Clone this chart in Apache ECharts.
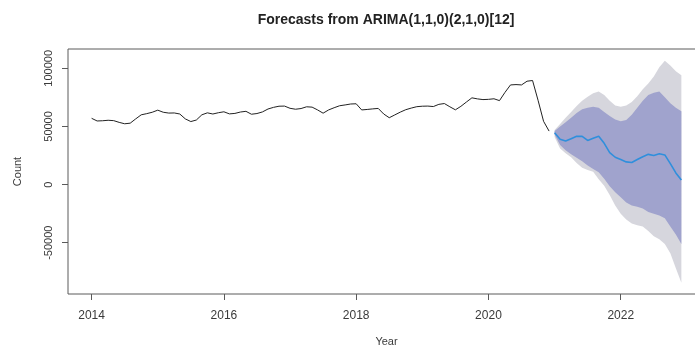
<!DOCTYPE html>
<html lang="en">
<head>
<meta charset="UTF-8">
<title>Forecasts from ARIMA</title>
<script src="https://cdn.jsdelivr.net/npm/echarts@6.0.0/dist/echarts.min.js"></script>
<style>
  html, body { margin: 0; padding: 0; background: #fff; }
  #chart { width: 695px; height: 351px; }
</style>
</head>
<body>
<div id="chart"></div>
<script>
// observed counts, monthly Jan 2014 .. Dec 2020
var histStart = 2014;
var histValues = [
  57000, 54700, 54900, 55300, 55000, 53500, 52300, 52800, 56500, 60000, 61000, 62200,
  64000, 62200, 61500, 61600, 60700, 56500, 54200, 55500, 60000, 61700, 60700, 61800,
  62600, 60800, 61200, 62400, 63000, 60500, 61100, 62500, 65000, 66400, 67400, 67500,
  65600, 64800, 65400, 66900, 66600, 64200, 61400, 64200, 66100, 67800, 68500, 69300,
  69500, 64200, 64600, 65100, 65500, 60700, 57500, 59900, 62300, 64400, 65800, 67000,
  67400, 67500, 67100, 69000, 69700, 66900, 64300, 67300, 71000, 74600, 73700, 73100,
  73300, 73800, 72200, 79300, 85700, 86000, 85700, 88900, 89500, 72500, 54400, 46000
];

// forecast Jan 2021 .. Dec 2022
var fcStart = 2021;
var fcMean = [44500, 39000, 37500, 39500, 41500, 41500, 38000, 39800, 41500, 35500, 27500, 23500,
              21500, 19500, 19000, 21500, 24000, 26000, 25000, 26500, 25500, 18000, 10000, 4000];
var fcHi95 = [47000, 52000, 57500, 62500, 67500, 72000, 75500, 78500, 80000, 77000, 72000, 68000,
              67000, 68000, 71000, 76000, 82000, 87000, 93000, 101000, 106500, 102500, 97500, 94000];
var fcHi80 = [46000, 50000, 53500, 57500, 61500, 64800, 66000, 67000, 66000, 62500, 59000, 56000,
              54500, 55500, 60000, 66000, 72000, 77000, 79000, 80000, 75000, 70000, 66000, 63000];
var fcLo80 = [43000, 34000, 29500, 26000, 23000, 20000, 16500, 13500, 10500, 5000, -1500, -6500,
              -11000, -15500, -18000, -19000, -20500, -23500, -25000, -26500, -29000, -36000, -43000, -51000];
var fcLo95 = [41000, 31000, 27000, 23500, 18500, 14500, 12500, 11000, 4500, -1000, -9000, -18000,
              -25000, -30000, -33500, -35000, -36000, -40000, -44500, -47000, -51000, -59000, -72000, -84500];

var xTicks = [2014, 2016, 2018, 2020, 2022];
var yTicks = [-50000, 0, 50000, 100000];

function pairs(start, vals) {
  return vals.map(function (v, i) { return [start + i / 12, v]; });
}

var chart = echarts.init(document.getElementById('chart'));
var font = 'Liberation Sans';
var txt = '#3a3a3a';
var boxColor = '#5a5a5a';

// prediction interval as a closed polygon: upper edge forward, lower edge back
function bandSeries(name, hi, lo, color, z) {
  return {
    name: name,
    type: 'custom',
    silent: true,
    z: z,
    data: hi.map(function (v, i) { return [fcStart + i / 12, v, lo[i]]; }),
    encode: { x: 0, y: [1, 2] },
    renderItem: function (params, api) {
      if (params.dataIndex !== 0) return null;
      var pts = [];
      for (var i = 0; i < hi.length; i++) pts.push(api.coord([fcStart + i / 12, hi[i]]));
      for (var j = lo.length - 1; j >= 0; j--) pts.push(api.coord([fcStart + j / 12, lo[j]]));
      return {
        type: 'polygon',
        shape: { points: pts },
        style: { fill: color, stroke: null }
      };
    }
  };
}

var option = {
  animation: false,
  backgroundColor: '#fff',
  graphic: [{
    type: 'text',
    x: 386, y: 20,
    style: {
      text: 'Forecasts from ARIMA(1,1,0)(2,1,0)[12]',
      font: 'bold 14px "Liberation Sans"',
      fill: '#222',
      align: 'center',
      verticalAlign: 'middle'
    }
  }],
  grid: {
    left: 68, right: -10, top: 49, bottom: 57,
    containLabel: false,
    outerBoundsMode: 'none',
    show: true,
    borderColor: boxColor,
    borderWidth: 1,
    backgroundColor: 'transparent'
  },
  xAxis: {
    type: 'value',
    min: 2013.643, max: 2023.274,
    name: 'Year',
    nameLocation: 'middle',
    nameGap: 42,
    nameTextStyle: { fontFamily: font, fontSize: 11, color: txt },
    axisLine: { show: false, onZero: false },
    splitLine: { show: false },
    axisTick: { show: true, length: 6, customValues: xTicks, lineStyle: { color: boxColor } },
    axisLabel: { customValues: xTicks, margin: 16, fontFamily: font, fontSize: 12, color: txt,
                 formatter: function (v) { return String(v); } }
  },
  yAxis: {
    type: 'value',
    min: -94100, max: 116600,
    name: 'Count',
    nameLocation: 'middle',
    nameGap: 45,
    nameRotate: 90,
    nameTextStyle: { fontFamily: font, fontSize: 11, color: txt },
    axisLine: { show: false, onZero: false },
    splitLine: { show: false },
    axisTick: { show: true, length: 6, customValues: yTicks, lineStyle: { color: boxColor } },
    axisLabel: { customValues: yTicks, rotate: 90, margin: 14, fontFamily: font, fontSize: 11, color: txt,
                 formatter: function (v) { return String(v); } }
  },
  series: [
    bandSeries('95%', fcHi95, fcLo95, '#d6d6dd', 1),
    bandSeries('80%', fcHi80, fcLo80, '#a0a3cd', 2),
    {
      name: 'observed',
      type: 'line',
      data: pairs(histStart, histValues),
      symbol: 'none',
      lineStyle: { color: '#222', width: 1 },
      z: 3
    },
    {
      name: 'forecast',
      type: 'line',
      data: pairs(fcStart, fcMean),
      symbol: 'none',
      lineStyle: { color: '#2f8fdc', width: 1.6 },
      z: 4
    }
  ]
};

chart.setOption(option);
</script>
</body>
</html>
